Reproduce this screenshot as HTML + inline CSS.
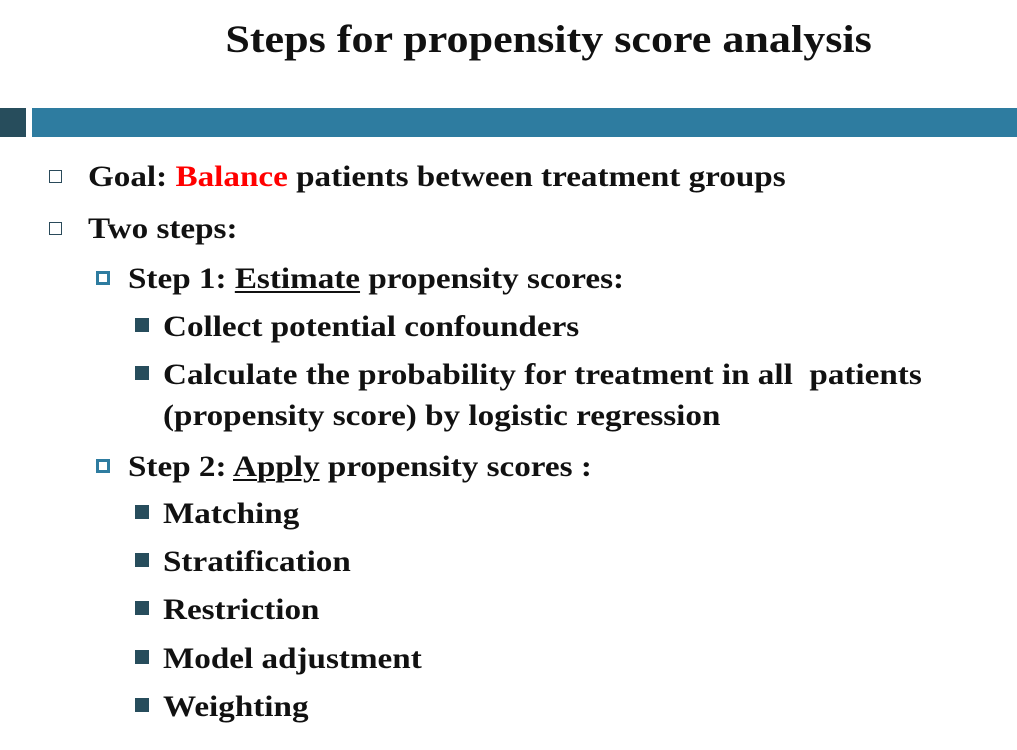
<!DOCTYPE html>
<html><head><meta charset="utf-8"><style>
body{margin:0;width:1017px;height:750px;background:#fff;position:relative;overflow:hidden;font-family:"Liberation Serif",serif;font-weight:bold;color:#111}
.t{position:absolute;font-size:30px;line-height:1;white-space:nowrap;transform:scaleX(1.105);transform-origin:0 0}
.b{position:absolute}
.h{width:11px;height:11px;border:1.5px solid #2a4a5a;background:#fff}
.s{width:8px;height:8px;border:3px solid #2e7ca0;background:#fff}
.f{width:14px;height:14px;background:#274d5c}
u{text-decoration-thickness:2px;text-underline-offset:3px}
</style></head><body>
<div style="position:absolute;left:0;width:1097px;text-align:center;top:20px;font-size:39px;line-height:1;transform:scaleX(1.13);transform-origin:548px 0">Steps for propensity score analysis</div>
<div style="position:absolute;left:0;top:108px;width:26px;height:29px;background:#274d5c"></div>
<div style="position:absolute;left:32px;top:108px;width:985px;height:29px;background:#2e7ca0"></div>

<div class="b h" style="left:49px;top:170px"></div>
<div class="t" style="left:88px;top:162px">Goal: <span style="color:#f00">Balance</span> patients between treatment groups</div>
<div class="b h" style="left:49px;top:222px"></div>
<div class="t" style="left:88px;top:214px">Two steps:</div>

<div class="b s" style="left:96px;top:271px"></div>
<div class="t" style="left:128px;top:264px">Step 1: <u>Estimate</u> propensity scores:</div>
<div class="b f" style="left:135px;top:318px"></div>
<div class="t" style="left:163px;top:312px">Collect potential confounders</div>
<div class="b f" style="left:135px;top:366px"></div>
<div class="t" style="left:163px;top:360px">Calculate the probability for treatment in all&nbsp; patients</div>
<div class="t" style="left:163px;top:401px">(propensity score) by logistic regression</div>

<div class="b s" style="left:96px;top:459px"></div>
<div class="t" style="left:128px;top:452px">Step 2: <u>Apply</u> propensity scores :</div>
<div class="b f" style="left:135px;top:505px"></div>
<div class="t" style="left:163px;top:499px">Matching</div>
<div class="b f" style="left:135px;top:553px"></div>
<div class="t" style="left:163px;top:547px">Stratification</div>
<div class="b f" style="left:135px;top:601px"></div>
<div class="t" style="left:163px;top:595px">Restriction</div>
<div class="b f" style="left:135px;top:650px"></div>
<div class="t" style="left:163px;top:644px">Model adjustment</div>
<div class="b f" style="left:135px;top:698px"></div>
<div class="t" style="left:163px;top:692px">Weighting</div>
</body></html>
